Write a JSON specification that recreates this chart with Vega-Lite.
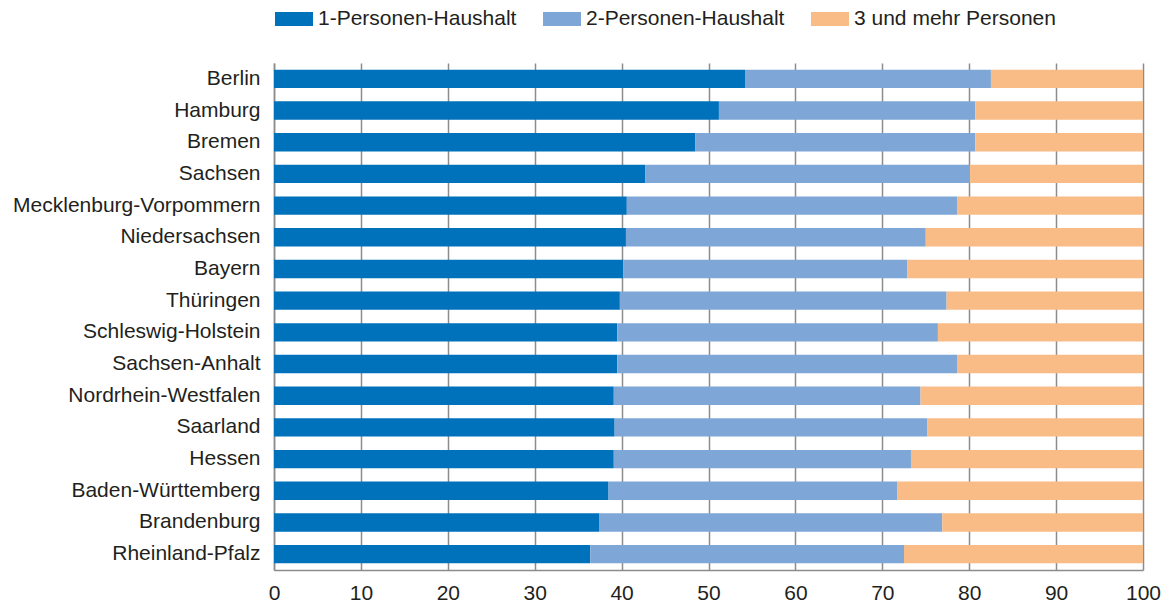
{
  "$schema": "https://vega.github.io/schema/vega-lite/v6.json",
  "width": 869,
  "height": 507,
  "autosize": {"type": "none"},
  "padding": {"left": 274, "top": 63, "right": 26, "bottom": 33},
  "background": "white",
  "config": {"view": {"stroke": null}, "font": "Liberation Sans"},
  "data": {
    "values": [
      {"Land": "Berlin", "Kategorie": "1-Personen-Haushalt", "k": 1, "Wert": 54.2},
      {"Land": "Berlin", "Kategorie": "2-Personen-Haushalt", "k": 2, "Wert": 28.3},
      {"Land": "Berlin", "Kategorie": "3 und mehr Personen", "k": 3, "Wert": 17.5},
      {"Land": "Hamburg", "Kategorie": "1-Personen-Haushalt", "k": 1, "Wert": 51.2},
      {"Land": "Hamburg", "Kategorie": "2-Personen-Haushalt", "k": 2, "Wert": 29.5},
      {"Land": "Hamburg", "Kategorie": "3 und mehr Personen", "k": 3, "Wert": 19.3},
      {"Land": "Bremen", "Kategorie": "1-Personen-Haushalt", "k": 1, "Wert": 48.5},
      {"Land": "Bremen", "Kategorie": "2-Personen-Haushalt", "k": 2, "Wert": 32.2},
      {"Land": "Bremen", "Kategorie": "3 und mehr Personen", "k": 3, "Wert": 19.3},
      {"Land": "Sachsen", "Kategorie": "1-Personen-Haushalt", "k": 1, "Wert": 42.7},
      {"Land": "Sachsen", "Kategorie": "2-Personen-Haushalt", "k": 2, "Wert": 37.4},
      {"Land": "Sachsen", "Kategorie": "3 und mehr Personen", "k": 3, "Wert": 19.9},
      {"Land": "Mecklenburg-Vorpommern", "Kategorie": "1-Personen-Haushalt", "k": 1, "Wert": 40.6},
      {"Land": "Mecklenburg-Vorpommern", "Kategorie": "2-Personen-Haushalt", "k": 2, "Wert": 38.0},
      {"Land": "Mecklenburg-Vorpommern", "Kategorie": "3 und mehr Personen", "k": 3, "Wert": 21.4},
      {"Land": "Niedersachsen", "Kategorie": "1-Personen-Haushalt", "k": 1, "Wert": 40.5},
      {"Land": "Niedersachsen", "Kategorie": "2-Personen-Haushalt", "k": 2, "Wert": 34.5},
      {"Land": "Niedersachsen", "Kategorie": "3 und mehr Personen", "k": 3, "Wert": 25.0},
      {"Land": "Bayern", "Kategorie": "1-Personen-Haushalt", "k": 1, "Wert": 40.2},
      {"Land": "Bayern", "Kategorie": "2-Personen-Haushalt", "k": 2, "Wert": 32.7},
      {"Land": "Bayern", "Kategorie": "3 und mehr Personen", "k": 3, "Wert": 27.1},
      {"Land": "Thüringen", "Kategorie": "1-Personen-Haushalt", "k": 1, "Wert": 39.8},
      {"Land": "Thüringen", "Kategorie": "2-Personen-Haushalt", "k": 2, "Wert": 37.6},
      {"Land": "Thüringen", "Kategorie": "3 und mehr Personen", "k": 3, "Wert": 22.6},
      {"Land": "Schleswig-Holstein", "Kategorie": "1-Personen-Haushalt", "k": 1, "Wert": 39.5},
      {"Land": "Schleswig-Holstein", "Kategorie": "2-Personen-Haushalt", "k": 2, "Wert": 36.9},
      {"Land": "Schleswig-Holstein", "Kategorie": "3 und mehr Personen", "k": 3, "Wert": 23.6},
      {"Land": "Sachsen-Anhalt", "Kategorie": "1-Personen-Haushalt", "k": 1, "Wert": 39.5},
      {"Land": "Sachsen-Anhalt", "Kategorie": "2-Personen-Haushalt", "k": 2, "Wert": 39.1},
      {"Land": "Sachsen-Anhalt", "Kategorie": "3 und mehr Personen", "k": 3, "Wert": 21.4},
      {"Land": "Nordrhein-Westfalen", "Kategorie": "1-Personen-Haushalt", "k": 1, "Wert": 39.1},
      {"Land": "Nordrhein-Westfalen", "Kategorie": "2-Personen-Haushalt", "k": 2, "Wert": 35.3},
      {"Land": "Nordrhein-Westfalen", "Kategorie": "3 und mehr Personen", "k": 3, "Wert": 25.6},
      {"Land": "Saarland", "Kategorie": "1-Personen-Haushalt", "k": 1, "Wert": 39.2},
      {"Land": "Saarland", "Kategorie": "2-Personen-Haushalt", "k": 2, "Wert": 36.0},
      {"Land": "Saarland", "Kategorie": "3 und mehr Personen", "k": 3, "Wert": 24.8},
      {"Land": "Hessen", "Kategorie": "1-Personen-Haushalt", "k": 1, "Wert": 39.1},
      {"Land": "Hessen", "Kategorie": "2-Personen-Haushalt", "k": 2, "Wert": 34.2},
      {"Land": "Hessen", "Kategorie": "3 und mehr Personen", "k": 3, "Wert": 26.7},
      {"Land": "Baden-Württemberg", "Kategorie": "1-Personen-Haushalt", "k": 1, "Wert": 38.5},
      {"Land": "Baden-Württemberg", "Kategorie": "2-Personen-Haushalt", "k": 2, "Wert": 33.2},
      {"Land": "Baden-Württemberg", "Kategorie": "3 und mehr Personen", "k": 3, "Wert": 28.3},
      {"Land": "Brandenburg", "Kategorie": "1-Personen-Haushalt", "k": 1, "Wert": 37.4},
      {"Land": "Brandenburg", "Kategorie": "2-Personen-Haushalt", "k": 2, "Wert": 39.5},
      {"Land": "Brandenburg", "Kategorie": "3 und mehr Personen", "k": 3, "Wert": 23.1},
      {"Land": "Rheinland-Pfalz", "Kategorie": "1-Personen-Haushalt", "k": 1, "Wert": 36.4},
      {"Land": "Rheinland-Pfalz", "Kategorie": "2-Personen-Haushalt", "k": 2, "Wert": 36.1},
      {"Land": "Rheinland-Pfalz", "Kategorie": "3 und mehr Personen", "k": 3, "Wert": 27.5}
    ]
  },
  "mark": {"type": "bar"},
  "encoding": {
    "y": {
      "field": "Land",
      "type": "nominal",
      "sort": ["Berlin", "Hamburg", "Bremen", "Sachsen", "Mecklenburg-Vorpommern", "Niedersachsen", "Bayern", "Thüringen", "Schleswig-Holstein", "Sachsen-Anhalt", "Nordrhein-Westfalen", "Saarland", "Hessen", "Baden-Württemberg", "Brandenburg", "Rheinland-Pfalz"],
      "title": null,
      "scale": {"paddingInner": 0.42, "paddingOuter": 0.21},
      "axis": {
        "domain": true,
        "domainColor": "#8c8c8c",
        "domainWidth": 1.5,
        "ticks": false,
        "grid": false,
        "labelFontSize": 21,
        "labelColor": "#231f20",
        "labelPadding": 14,
        "labelLimit": 0
      }
    },
    "x": {
      "field": "Wert",
      "type": "quantitative",
      "stack": "zero",
      "title": null,
      "scale": {"domain": [0, 100], "nice": false},
      "axis": {
        "values": [0, 10, 20, 30, 40, 50, 60, 70, 80, 90, 100],
        "grid": true,
        "gridColor": "#8c8c8c",
        "gridWidth": 1.5,
        "domainColor": "#8c8c8c",
        "domainWidth": 1.5,
        "ticks": false,
        "labelFontSize": 21,
        "labelColor": "#231f20",
        "labelPadding": 12,
        "labelFlush": false,
        "labelOverlap": false
      }
    },
    "color": {
      "field": "Kategorie",
      "type": "nominal",
      "scale": {
        "domain": ["1-Personen-Haushalt", "2-Personen-Haushalt", "3 und mehr Personen"],
        "range": ["#0072bc", "#7ea7d8", "#f9bc87"]
      },
      "legend": {
        "orient": "none",
        "direction": "horizontal",
        "legendX": 1,
        "legendY": -63,
        "title": null,
        "padding": 0,
        "symbolType": "M-1,-0.37H1V0.37H-1Z",
        "symbolSize": 1444,
        "symbolStrokeWidth": 0,
        "symbolOpacity": 1,
        "labelFontSize": 21,
        "labelColor": "#231f20",
        "labelOffset": 5,
        "labelLimit": 0,
        "columnPadding": 26
      }
    },
    "order": {"field": "k", "type": "quantitative"}
  }
}
